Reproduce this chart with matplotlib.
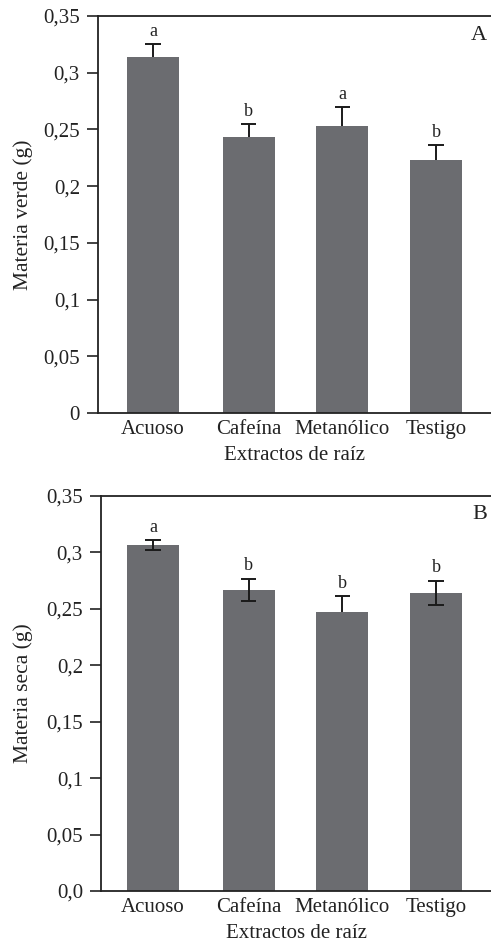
import matplotlib
matplotlib.use("Agg")
import matplotlib.pyplot as plt
from matplotlib.ticker import FixedLocator, FixedFormatter

plt.rcParams['font.family'] = ['Liberation Serif', 'DejaVu Serif']

categories = ["Acuoso", "Cafeína", "Metanólico", "Testigo"]

verde_vals = [0.314, 0.2435, 0.253, 0.223]
verde_err_low = [0.0, 0.0, 0.0, 0.0]
verde_err_up = [0.011, 0.011, 0.017, 0.0135]
verde_letters = ["a", "b", "a", "b"]

seca_vals = [0.3068, 0.2668, 0.2472, 0.2642]
seca_err_low = [0.0045, 0.0095, 0.0, 0.0105]
seca_err_up = [0.0045, 0.0100, 0.0142, 0.0108]
seca_letters = ["a", "b", "b", "b"]

yticks = [0, 0.05, 0.1, 0.15, 0.2, 0.25, 0.3, 0.35]
yticklabels_verde = ["0", "0,05", "0,1", "0,15", "0,2", "0,25", "0,3", "0,35"]
yticklabels_seca = ["0,0", "0,05", "0,1", "0,15", "0,2", "0,25", "0,3", "0,35"]

W, H = 491, 943
fig = plt.figure(figsize=(W / 100, H / 100), dpi=100)

bar_color = "#6b6c70"
ink = "#222222"
positions = [0, 1.01, 2.0, 2.99]
cap_half = 0.08


def panel(left, top, bottom, vals, elow, eup, letters, ylabels, ylabel, tag):
    ax = fig.add_axes([left / W, 1 - bottom / H, (W - left) / W, (bottom - top) / H])
    ax.bar(positions, vals, width=0.55, color=bar_color, zorder=2)
    # error whiskers: caps only where a whisker extends
    for x, v, lo, up in zip(positions, vals, elow, eup):
        ax.vlines(x, v - lo, v + up, colors="#1a1a1a", linewidth=1.4, zorder=3)
        ax.hlines(v + up, x - cap_half, x + cap_half, colors="#1a1a1a",
                  linewidth=1.4, zorder=3)
        if lo > 0:
            ax.hlines(v - lo, x - cap_half, x + cap_half, colors="#1a1a1a",
                      linewidth=1.4, zorder=3)
    for x, v, e, s in zip(positions, vals, eup, letters):
        ax.annotate(s, (x, v + e), xytext=(0, 3), textcoords="offset points",
                    ha="center", va="bottom", fontsize=13, color=ink)
    span = 94.67
    ax.set_xlim(-(153 - left) / span, (W - 153) / span)
    ax.set_ylim(0, 0.35)
    ax.yaxis.set_major_locator(FixedLocator(yticks))
    ax.yaxis.set_major_formatter(FixedFormatter(ylabels))
    ax.set_xticks(positions)
    ax.set_xticklabels(categories)
    ax.tick_params(axis="x", length=0, pad=5, labelsize=15, colors=ink)
    ax.tick_params(axis="y", direction="out", length=8, width=1.2, pad=5,
                   labelsize=15, colors=ink)
    for side in ("left", "bottom", "top"):
        ax.spines[side].set_linewidth(1.3)
        ax.spines[side].set_color(ink)
    ax.spines["right"].set_visible(False)
    ax.set_xlabel("Extractos de raíz", fontsize=15, labelpad=5, color=ink)
    ax.set_ylabel(ylabel, fontsize=15.5, color=ink)
    ax.yaxis.set_label_coords(-(left - 33) / (W - left), 0.5)
    ax.text(0.99, 0.976, tag, transform=ax.transAxes, ha="right", va="top",
            fontsize=16, color=ink)
    return ax


panel(98, 16, 413, verde_vals, verde_err_low, verde_err_up, verde_letters,
      yticklabels_verde, "Materia verde (g)", "A")
panel(101, 496, 891, seca_vals, seca_err_low, seca_err_up, seca_letters,
      yticklabels_seca, "Materia seca (g)", "B")

fig.savefig("out.png", dpi=100)
